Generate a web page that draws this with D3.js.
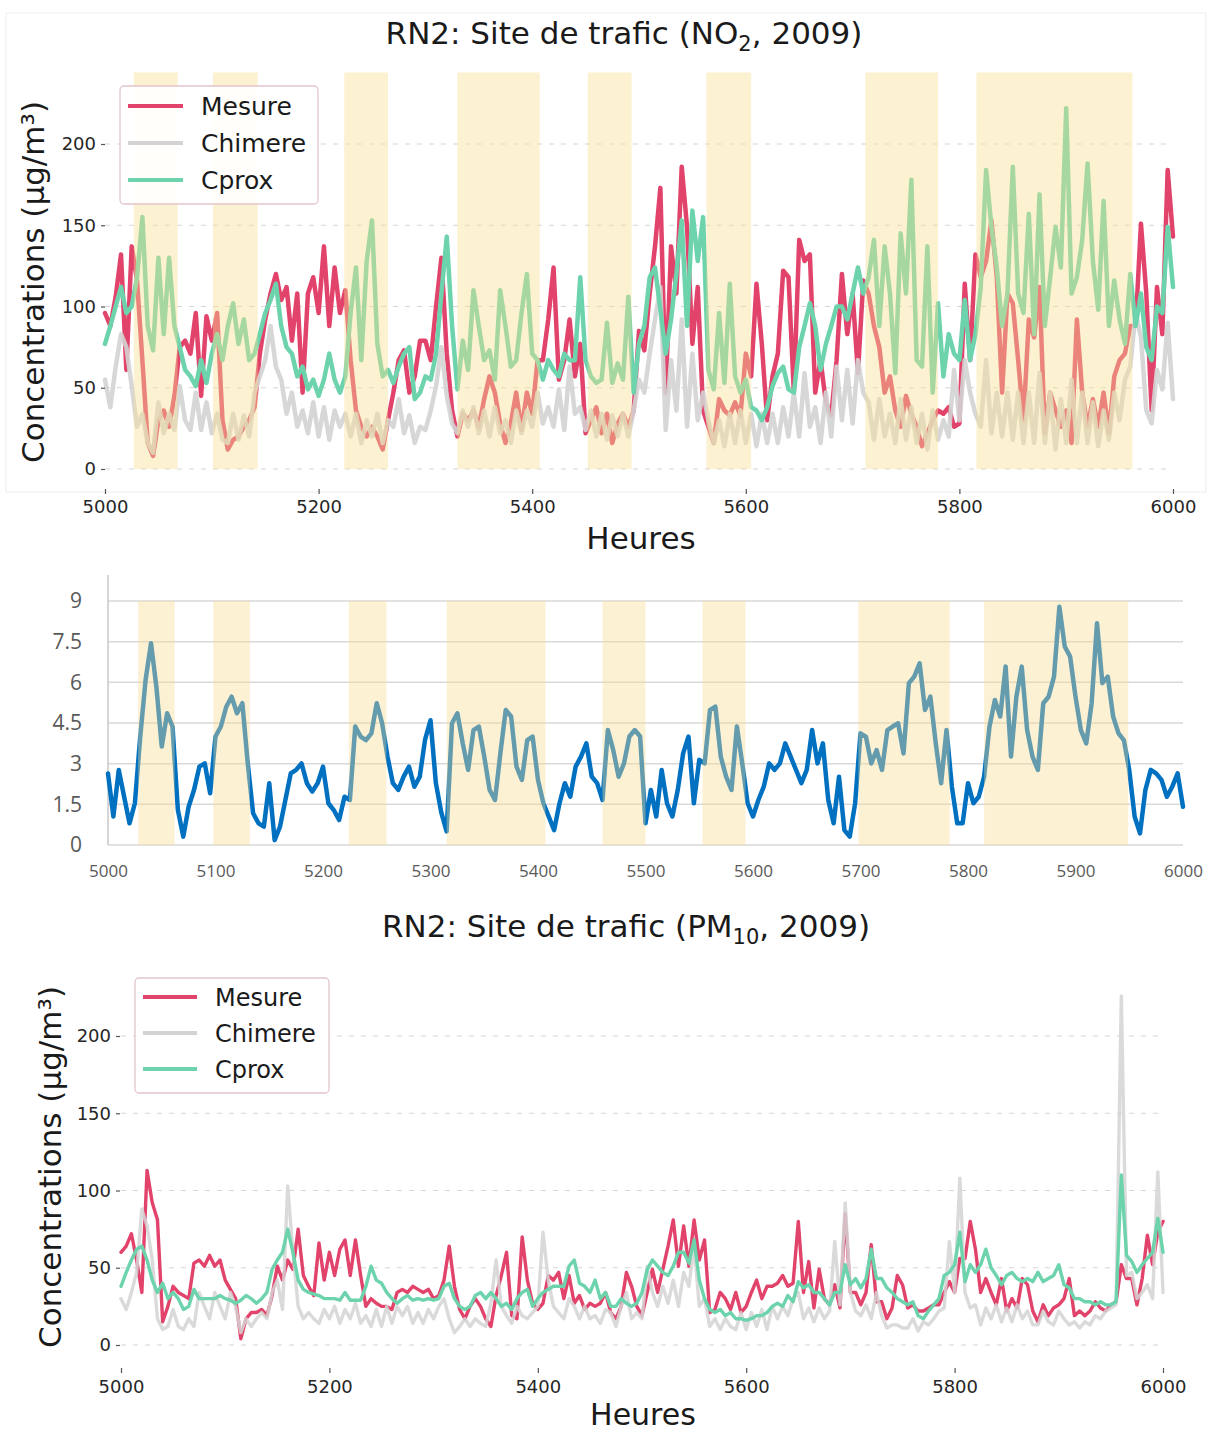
<!DOCTYPE html>
<html><head><meta charset="utf-8">
<script src="https://cdn.jsdelivr.net/npm/d3@7"></script>
<style>body{margin:0;background:#fff}svg{display:block}</style>
</head><body>
<svg id="c" width="1211" height="1432"></svg>
<script>
// ---------- DATA ----------
const hours = d3.range(5000, 6001, 5);
const xTickValues = [5000, 5200, 5400, 5600, 5800, 6000];
const xTickValuesMid = [5000, 5100, 5200, 5300, 5400, 5500, 5600, 5700, 5800, 5900, 6000];
const yTickValues = [0, 50, 100, 150, 200];
const yTickValuesMid = [0, 1.5, 3, 4.5, 6, 7.5, 9];
const seriesNames = ["Mesure", "Chimere", "Cprox"];

const bandStartNO2 = [5027, 5101, 5224, 5330, 5452, 5563, 5712, 5816];
const bandEndNO2   = [5068, 5143, 5265, 5407, 5493, 5605, 5780, 5962];
const bandStartMid = [5028, 5098, 5224, 5315, 5460, 5553, 5698, 5815];
const bandEndMid   = [5062, 5132, 5259, 5407, 5500, 5593, 5783, 5949];

const no2Mesure = [
96,88,106,132,61,137,116,67,16,8,
30,36,26,45,75,79,71,96,45,94,
79,96,30,12,18,20,26,30,38,71,
92,108,120,104,112,79,108,47,108,118,
96,137,88,124,96,110,67,36,26,20,
26,20,12,30,47,67,73,47,57,79,
79,67,100,130,71,36,20,34,30,36,
26,43,57,47,28,16,28,47,24,47,
34,67,67,92,124,55,67,92,57,77,
22,30,38,22,34,16,28,34,26,36,
85,73,108,137,173,47,137,108,186,149,
77,112,36,26,16,43,36,33,41,33,
71,57,114,77,30,57,71,122,118,47,
141,128,132,47,67,41,33,67,120,83,
108,59,116,108,88,75,47,57,36,26,
45,34,26,14,22,30,36,34,38,26,
28,114,67,132,118,128,153,118,47,108,
102,67,30,92,81,112,22,47,36,26,
36,16,92,47,26,43,26,47,22,57,
67,71,88,88,151,108,36,112,83,184,
143];
const no2Chimere = [
55,38,63,83,75,51,26,34,16,10,
41,22,34,24,51,30,24,47,24,41,
22,34,18,16,34,18,33,20,47,57,
67,88,63,55,34,47,26,36,22,41,
20,38,18,36,26,34,20,34,16,30,
20,34,16,30,26,43,22,33,16,26,
24,36,51,75,45,28,22,36,26,38,
22,36,20,38,22,30,16,36,22,36,
26,47,28,38,26,49,24,63,34,38,
24,36,20,34,18,33,20,34,20,36,
55,47,71,92,112,24,67,36,92,26,
71,30,47,30,16,30,14,34,16,36,
16,34,14,34,16,34,16,38,20,47,
20,59,26,38,16,47,20,63,30,61,
28,67,47,41,18,43,20,34,16,43,
18,38,16,34,12,36,18,30,20,61,
30,67,47,34,26,67,22,47,20,47,
18,47,16,47,16,59,16,47,12,43,
16,55,16,47,16,41,14,36,18,47,
30,55,63,96,81,36,28,61,49,90,
43];
const no2Cprox = [
77,88,100,112,96,100,118,155,88,73,
130,83,130,88,75,61,57,51,67,53,
71,83,67,88,102,77,92,67,71,83,
96,104,114,88,75,71,57,63,49,55,
45,55,71,55,47,57,96,124,67,128,
153,77,57,61,53,63,71,75,43,47,
57,55,71,108,143,88,49,79,61,110,
88,67,73,55,110,88,63,67,96,120,
71,67,55,67,61,57,71,67,67,118,
67,57,53,55,90,53,65,55,106,47,
77,88,118,124,98,71,92,120,153,88,
159,128,155,61,49,96,53,114,57,47,
55,38,36,30,38,51,59,63,49,47,
75,88,102,88,61,77,88,100,100,92,
108,124,108,118,141,88,137,108,59,145,
108,178,67,63,137,47,102,57,83,71,
67,104,67,83,112,184,149,124,88,108,
186,108,96,157,83,169,88,118,149,124,
222,108,118,141,188,128,98,165,88,116,
92,77,120,88,108,75,67,100,96,149,
112];
const midValues = [
2.64,1.05,2.77,1.78,0.8,1.54,4.0,6.1,7.44,5.84,
3.63,4.86,4.37,1.29,0.31,1.41,2.03,2.89,3.01,1.91,
4.0,4.37,5.1,5.47,4.86,5.23,3.01,1.17,0.8,0.68,
2.28,0.18,0.68,1.66,2.64,2.77,3.01,2.28,1.97,2.28,
2.89,1.54,1.29,0.92,1.78,1.66,4.37,4.0,3.87,4.12,
5.23,4.49,3.26,2.28,2.03,2.52,2.89,2.15,2.52,3.9,
4.6,2.28,1.2,0.5,4.49,4.86,3.75,2.77,4.24,4.37,
3.26,2.03,1.66,3.38,4.98,4.74,2.89,2.4,3.87,4.0,
2.4,1.54,1.05,0.55,1.54,2.28,1.78,2.89,3.26,3.75,
2.52,2.28,1.66,4.24,3.5,2.52,3.01,4.0,4.24,4.0,
0.8,2.03,1.05,2.77,1.54,1.05,2.03,3.38,4.0,1.54,
3.14,3.01,4.98,5.1,3.26,2.52,2.03,4.37,3.01,1.54,
1.05,1.66,2.15,3.01,2.77,3.01,3.75,3.26,2.77,2.28,
2.77,4.24,3.01,3.75,1.66,0.8,2.52,0.55,0.31,1.54,
4.12,4.0,3.01,3.5,2.77,4.24,4.37,4.49,3.38,5.97,
6.21,6.7,4.98,5.47,3.75,2.28,4.24,2.15,0.8,0.8,
2.28,1.54,1.78,2.52,4.37,5.35,4.74,6.58,3.26,5.47,
6.58,4.24,3.26,2.77,5.23,5.47,6.21,8.79,7.32,6.95,
5.47,4.24,3.75,5.23,8.18,5.97,6.21,4.74,4.12,3.87,
2.77,1.05,0.43,2.03,2.77,2.64,2.4,1.78,2.15,2.64,
1.41];
const pmMesure = [
60,64,72,55,34,113,92,81,15,25,
38,34,32,30,53,55,51,58,51,55,
42,36,30,4,17,21,21,23,19,32,
51,42,55,49,75,45,38,32,66,42,
60,45,62,68,45,68,45,25,30,27,
25,25,23,34,36,34,38,36,34,36,
30,32,42,64,38,23,17,25,30,25,
17,12,32,45,60,19,17,70,42,27,
23,27,45,42,47,30,45,27,32,23,
27,25,27,34,21,17,25,47,38,25,
19,34,49,34,49,64,81,51,77,51,
81,55,68,21,23,34,30,23,34,21,
25,34,42,30,38,38,40,45,38,40,
80,34,54,24,49,30,26,39,24,85,
34,34,26,34,65,28,28,17,24,45,
39,24,26,22,22,24,26,26,34,41,
34,56,56,80,62,34,43,34,26,43,
22,30,24,43,39,22,15,26,19,24,
26,30,43,19,22,19,22,28,24,22,
26,28,52,43,43,26,43,71,52,73,
80];
const pmChimere = [
30,23,34,47,88,77,55,17,10,12,
23,12,10,17,12,34,25,17,34,25,
17,34,25,8,17,12,17,21,17,34,
42,23,103,60,25,17,21,17,14,23,
17,25,14,23,17,27,14,19,12,23,
12,25,14,25,19,25,14,21,14,23,
17,25,30,17,8,12,17,12,17,14,
12,27,55,25,19,14,25,19,17,21,
25,73,42,25,21,17,30,25,17,25,
17,19,14,23,21,12,25,34,17,21,
17,51,34,25,38,27,42,25,47,38,
64,25,30,12,17,10,17,12,10,21,
10,21,12,23,10,25,17,25,19,30,
34,17,24,15,24,17,22,67,26,92,
34,22,19,26,17,34,19,11,13,13,
11,11,17,9,15,13,17,22,24,67,
34,108,34,24,26,13,24,17,26,15,
24,15,26,17,22,13,13,22,15,13,
22,17,13,15,11,15,13,19,17,22,
24,26,226,45,47,30,34,39,30,112,
34];
const pmCprox = [
38,47,55,62,64,55,42,34,40,30,
34,30,23,25,36,30,30,30,30,32,
30,29,27,29,32,30,27,30,34,49,
55,60,75,60,42,36,34,33,32,30,
30,30,29,34,29,29,29,38,51,42,
40,34,30,27,30,32,29,30,29,30,
29,30,38,40,30,25,23,25,32,34,
30,34,30,25,27,23,30,34,36,25,
30,34,36,38,38,38,51,55,40,38,
34,42,30,34,25,25,30,27,25,27,
34,49,55,51,47,45,51,60,60,53,
68,42,30,23,21,23,19,21,17,17,
16,17,19,19,21,25,27,25,32,28,
41,37,39,34,34,30,26,34,34,52,
39,43,37,43,62,43,43,37,34,30,
28,26,28,19,17,22,26,30,45,47,
52,73,41,52,47,52,62,50,45,39,
45,47,43,41,43,41,47,41,43,45,
52,39,37,30,30,28,28,26,28,26,
26,28,110,58,54,47,52,56,60,82,
60];

// ---------- STYLE ----------
const colMesure = "#e1436b", colChimere = "#d3d3d3", colCprox = "#6dd3ad";
const seriesColors = [colMesure, colChimere, colCprox];
const bandColor = "#f9dd90";
const fontMain = "DejaVu Sans, Verdana, sans-serif";
const fontMid = "Open Sans, Lato, sans-serif";

const svg = d3.select("#c");

function drawSeries(g, xs, ys, vals, color, width, opacity) {
  const data = hours.map((h, i) => [h, vals[i]]);
  g.append("path").datum(data)
    .attr("d", d3.line().x(d => xs(d[0])).y(d => ys(d[1])))
    .attr("fill", "none").attr("stroke", color).attr("stroke-width", width)
    .attr("stroke-linejoin", "round").attr("stroke-linecap", "round")
    .attr("opacity", opacity);
}
function drawBands(g, xs, y0, y1, starts, ends, op) {
  g.selectAll(null).data(starts.map((s, i) => [s, ends[i]])).enter().append("rect")
    .attr("x", d => xs(d[0])).attr("width", d => xs(d[1]) - xs(d[0]))
    .attr("y", y1).attr("height", y0 - y1)
    .attr("fill", bandColor).attr("opacity", op);
}
function styleAxis(g, font, size, color, tickColor) {
  g.select(".domain").remove();
  g.selectAll("text").attr("font-family", font).attr("font-size", size).attr("fill", color);
  g.selectAll("line").attr("stroke", tickColor).attr("stroke-width", 1.2);
}
function legend(g, x, y, w, h, rows, gap, lineX0, lineX1, textX, fs) {
  g.append("rect").attr("x", x).attr("y", y).attr("width", w).attr("height", h)
    .attr("rx", 4).attr("fill", "#fff").attr("fill-opacity", 0.9)
    .attr("stroke", "#e2c5ca").attr("stroke-width", 1.3);
  seriesNames.forEach((n, i) => {
    const yy = rows + i * gap;
    g.append("line").attr("x1", lineX0).attr("x2", lineX1).attr("y1", yy).attr("y2", yy)
      .attr("stroke", seriesColors[i]).attr("stroke-width", 4);
    g.append("text").attr("x", textX).attr("y", yy + fs * 0.36).text(n)
      .attr("font-family", fontMain).attr("font-size", fs).attr("fill", "#1a1a1a");
  });
}

// ================= TOP PANEL (NO2) =================
const gT = svg.append("g");
const xT = d3.scaleLinear().domain([5000, 6000]).range([105, 1173]);
const yT = d3.scaleLinear().domain([0, 244]).range([469, 72.5]);

gT.append("rect").attr("x", 6).attr("y", 13).attr("width", 1200).attr("height", 479)
  .attr("fill", "none").attr("stroke", "#f1f1f1").attr("stroke-width", 1.2);

gT.selectAll(null).data(yTickValues).enter().append("line")
  .attr("x1", 105).attr("x2", 1173).attr("y1", d => yT(d)).attr("y2", d => yT(d))
  .attr("stroke", "#d6d6d6").attr("stroke-width", 1.2).attr("stroke-dasharray", "5,7");

drawSeries(gT, xT, yT, no2Mesure, colMesure, 4.5, 1);
drawSeries(gT, xT, yT, no2Chimere, colChimere, 4.5, 0.9);
drawSeries(gT, xT, yT, no2Cprox, colCprox, 4.5, 1);
drawBands(gT, xT, yT(0), yT(244), bandStartNO2, bandEndNO2, 0.42);

const axTY = gT.append("g").attr("transform", "translate(105,0)")
  .call(d3.axisLeft(yT).tickValues(yTickValues).tickSize(4).tickPadding(5).tickFormat(d3.format("d")));
styleAxis(axTY, fontMain, 18, "#262626", "#555");
const axTX = gT.append("g").attr("transform", "translate(0,489)")
  .call(d3.axisBottom(xT).tickValues(xTickValues).tickSize(5).tickPadding(6).tickFormat(d3.format("d")));
styleAxis(axTX, fontMain, 18, "#262626", "#555");

const t1 = gT.append("text").attr("x", 624).attr("y", 44).attr("text-anchor", "middle")
  .attr("font-family", fontMain).attr("font-size", 31).attr("fill", "#1a1a1a");
t1.append("tspan").text("RN2: Site de trafic (NO");
t1.append("tspan").text("2").attr("font-size", 21).attr("dy", 7);
t1.append("tspan").text(", 2009)").attr("dy", -7);

gT.append("text").attr("transform", "translate(44,282) rotate(-90)").attr("text-anchor", "middle")
  .attr("font-family", fontMain).attr("font-size", 31).attr("fill", "#1a1a1a")
  .text("Concentrations (µg/m³)");
gT.append("text").attr("x", 641).attr("y", 549).attr("text-anchor", "middle")
  .attr("font-family", fontMain).attr("font-size", 31).attr("fill", "#1a1a1a").text("Heures");

legend(gT, 120, 86, 198, 118, 106, 37, 128, 183, 201, 25);

// ================= MIDDLE PANEL =================
const gM = svg.append("g");
const xM = d3.scaleLinear().domain([5000, 6000]).range([108, 1183]);
const yM = d3.scaleLinear().domain([0, 9]).range([845, 601]);

gM.selectAll(null).data(yTickValuesMid).enter().append("line")
  .attr("x1", 108).attr("x2", 1183).attr("y1", d => yM(d)).attr("y2", d => yM(d))
  .attr("stroke", "#d9d9d9").attr("stroke-width", 1.5);
gM.append("line").attr("x1", 108).attr("x2", 108).attr("y1", 575).attr("y2", 845)
  .attr("stroke", "#c8c8c8").attr("stroke-width", 1.5);
gM.append("path").datum(hours.map((h, i) => [h, midValues[i]]))
  .attr("d", d3.line().x(d => xM(d[0])).y(d => yM(d[1])))
  .attr("fill", "none").attr("stroke", "#0070c0").attr("stroke-width", 4.5)
  .attr("stroke-linejoin", "round").attr("stroke-linecap", "round");
drawBands(gM, xM, yM(0), yM(9), bandStartMid, bandEndMid, 0.4);

const axMY = gM.append("g").attr("transform", "translate(108,0)")
  .call(d3.axisLeft(yM).tickValues(yTickValuesMid).tickSize(0).tickPadding(26).tickFormat(d => String(d)));
styleAxis(axMY, fontMid, 21, "#595959", "none");
const axMX = gM.append("g").attr("transform", "translate(0,845)")
  .call(d3.axisBottom(xM).tickValues(xTickValuesMid).tickSize(0).tickPadding(20).tickFormat(d3.format("d")));
styleAxis(axMX, fontMid, 17, "#595959", "none");

// ================= BOTTOM PANEL (PM10) =================
const gB = svg.append("g");
const xB = d3.scaleLinear().domain([5000, 6000]).range([121, 1163]);
const yB = d3.scaleLinear().domain([0, 200]).range([1345, 1036]);

gB.selectAll(null).data(yTickValues).enter().append("line")
  .attr("x1", 121).attr("x2", 1160).attr("y1", d => yB(d)).attr("y2", d => yB(d))
  .attr("stroke", "#d6d6d6").attr("stroke-width", 1.2).attr("stroke-dasharray", "5,7");

drawSeries(gB, xB, yB, pmMesure, colMesure, 3.4, 1);
drawSeries(gB, xB, yB, pmChimere, colChimere, 3.4, 0.85);
drawSeries(gB, xB, yB, pmCprox, colCprox, 3.4, 1);

const axBY = gB.append("g").attr("transform", "translate(120,0)")
  .call(d3.axisLeft(yB).tickValues(yTickValues).tickSize(4).tickPadding(5).tickFormat(d3.format("d")));
styleAxis(axBY, fontMain, 18, "#262626", "#555");
const axBX = gB.append("g").attr("transform", "translate(0,1368)")
  .call(d3.axisBottom(xB).tickValues(xTickValues).tickSize(5).tickPadding(7).tickFormat(d3.format("d")));
styleAxis(axBX, fontMain, 18, "#262626", "#555");

const t2 = gB.append("text").attr("x", 626).attr("y", 937).attr("text-anchor", "middle")
  .attr("font-family", fontMain).attr("font-size", 31).attr("fill", "#1a1a1a");
t2.append("tspan").text("RN2: Site de trafic (PM");
t2.append("tspan").text("10").attr("font-size", 21).attr("dy", 7);
t2.append("tspan").text(", 2009)").attr("dy", -7);

gB.append("text").attr("transform", "translate(61,1167) rotate(-90)").attr("text-anchor", "middle")
  .attr("font-family", fontMain).attr("font-size", 31).attr("fill", "#1a1a1a")
  .text("Concentrations (µg/m³)");
gB.append("text").attr("x", 643).attr("y", 1425).attr("text-anchor", "middle")
  .attr("font-family", fontMain).attr("font-size", 30).attr("fill", "#1a1a1a").text("Heures");

legend(gB, 135, 978, 194, 115, 997, 36, 143, 197, 215, 24);
</script>
</body></html>
